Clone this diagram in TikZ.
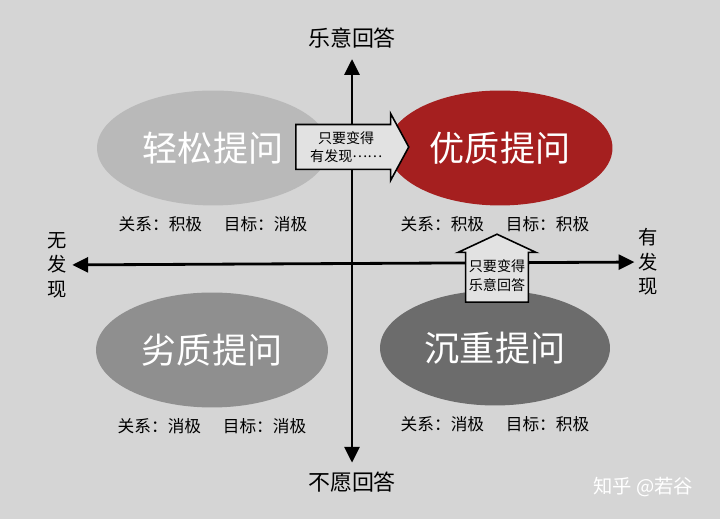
\documentclass[tikz,border=0pt]{standalone}
\usepackage{fontspec}
\setmainfont{Noto Sans CJK SC}
\usetikzlibrary{positioning, arrows.meta, shapes.geometric, shapes.arrows}

\definecolor{paper}{HTML}{D5D5D5}
\definecolor{easygray}{HTML}{B9B9B9}
\definecolor{goodred}{HTML}{A51F1F}
\definecolor{badgray}{HTML}{8F8F8F}
\definecolor{heavygray}{HTML}{6C6C6C}
\definecolor{hintgray}{HTML}{E2E2E2}

\begin{document}
\begin{tikzpicture}[x=0.02cm, y=-0.02cm,
  quad/.style={ellipse, minimum width=4.64cm, minimum height=2.3cm, inner sep=0pt,
               text=white, font=\fontsize{20}{24}\selectfont},
  note/.style={font=\fontsize{9.5}{12}\selectfont, inner sep=1pt},
  axislbl/.style={font=\fontsize{12.5}{15}\selectfont, inner sep=2pt},
  sidelbl/.style={font=\fontsize{11}{14}\selectfont, align=center, inner sep=2pt},
  axis/.style={{Triangle[length=9pt,width=8.5pt]}-{Triangle[length=9pt,width=8.5pt]},
               line width=1.6pt},
  hint/.style={single arrow, draw=black, fill=hintgray, line width=0.9pt, align=center,
               font=\fontsize{8}{10.5}\selectfont, inner sep=1pt},
]

% === Background ===
\fill[paper] (0,0) rectangle (720,519);

% === Quadrants ===
\node[quad, fill=easygray] (easy) at (213,148) {轻松提问};
\node[quad, fill=goodred, minimum width=4.5cm] (good) at (500,148) {优质提问};
\node[quad, fill=badgray] (bad) at (212,350) {劣质提问};
\node[quad, fill=heavygray, minimum width=4.6cm] (heavy) at (495,348) {沉重提问};

\node[note, below=0.17cm of easy] (easyn) {关系：积极\hspace{1.3em}目标：消极};
\node[note, below=0.17cm of good, xshift=-0.1cm] (goodn) {关系：积极\hspace{1.3em}目标：积极};
\node[note, below=0.17cm of bad] (badn) {关系：消极\hspace{1.3em}目标：消极};
\node[note, below=0.17cm of heavy] (heavyn) {关系：消极\hspace{1.3em}目标：积极};

% === Axes ===
\node[axislbl] (yes) at (352,38) {乐意回答};
\node[axislbl] (no) at (352,482) {不愿回答};
\node[sidelbl] (none) at (57,265) {无\\发\\现};
\node[sidelbl] (found) at (648,262) {有\\发\\现};

\draw[axis, shorten <=3pt, shorten >=4pt] (no) -- (yes);
\draw[axis, shorten <=1pt] (none) -- (found);

% === Hints ===
\node[hint, anchor=tail, minimum height=2.26cm, minimum width=1.34cm,
      single arrow head extend=0.18cm, single arrow tip angle=123] (hint1)
      at (295,147) {只要变得\\有发现\raisebox{0.3em}{……}};
\node[hint, anchor=tail, shape border rotate=90, minimum height=1.36cm, minimum width=1.56cm,
      single arrow head extend=0.15cm, single arrow tip angle=130] (hint2)
      at (497,303) {只要变得\\乐意回答};

% === Mark ===
\node[text=white, font=\fontsize{11}{13}\selectfont] (mark) at (643,487) {知乎 @若谷};

\end{tikzpicture}
\end{document}
